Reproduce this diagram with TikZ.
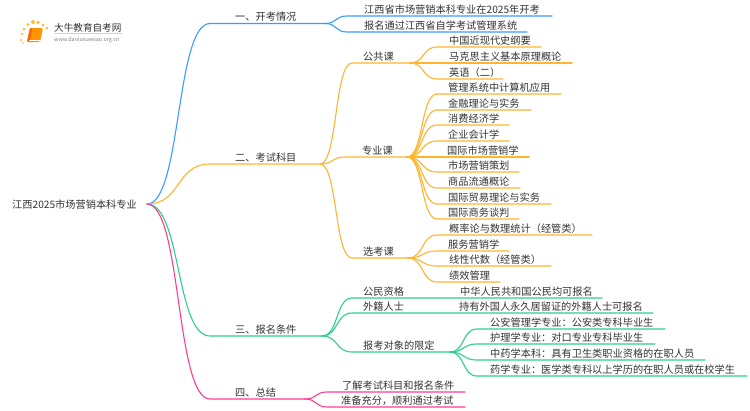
\documentclass[tikz,border=0pt]{standalone}
\usepackage{fontspec}
\usetikzlibrary{calc}
\setmainfont{Noto Sans CJK SC}
\definecolor{cblue}{HTML}{3D9BFF}
\definecolor{corange}{HTML}{FFB52E}
\definecolor{cgreen}{HTML}{2DCF8C}
\definecolor{cpink}{HTML}{FF3D8F}
\definecolor{ctext}{HTML}{333333}
\tikzset{
  label text/.style={anchor=base west,inner sep=0pt,text=ctext,font=\fontsize{10.2}{12}\selectfont},
  link/.style={line width=1.1pt,line cap=round},
}
% \mnode{name}{parent}{xstart}{xend}{y}{textx}{text}{colour}
\newcommand{\mnode}[8]{%
  \coordinate (#1s) at (#3,#5);
  \coordinate (#1) at (#4,#5);
  \node[label text] (#1t) at (#6,#5-2.6) {#7};
  \draw[link,#8] (#2) .. controls ($(#2)!0.55!(#1s|-#2)$) and ($(#1s)!0.55!(#2|-#1s)$) .. (#1s) -- (#1);
}
\begin{document}
\begin{tikzpicture}[x=1pt,y=-1pt]
\useasboundingbox (0,0) rectangle (750,410);
\fill[white] (0,0) rectangle (750,410);
% logo
\foreach \a/\b/\r in {21/40/1.1,22/34/1.3,24/29/1.5,28/24.5/1.7,33/22/2,38/22.5/1.9,43/25/1.7,47/28/1.5,23/43/.9}
  \fill[orange!70!yellow,opacity=.75] (\a,\b) circle (\r);
\fill[orange!85!yellow,rounded corners=1.5pt] (30,28) -- (43,28) -- (40,42) -- (27,42) -- cycle;
\fill[orange!75!red,rounded corners=1pt] (30,28) -- (32.5,28) -- (29.5,42) -- (27,42) -- cycle;
\draw[white,line width=.5pt] (29,40) -- (39.5,40);
\node[anchor=base west,inner sep=0pt,text=ctext,font=\fontsize{9.6}{11}\selectfont] (logot) at (54,31) {大牛教育自考网};
\draw[gray!35,line width=.5pt] (54,33.5) -- (122,33.5);
\node[anchor=base west,inner sep=0pt,text=gray,font=\fontsize{5.4}{6}\selectfont] (logou) at (54,41) {www.daniuxuexiao.org.cn};
% root
\node[label text] (roott) at (12,208.4) {江西2025市场营销本科专业};
\coordinate (root) at (147,204);
% branch 1
\mnode{a}{root}{210}{325}{23.5}{235}{一、开考情况}{cblue}
\mnode{aa}{a}{347}{552}{16}{364}{江西省市场营销本科专业在2025年开考}{cblue}
\mnode{ab}{a}{347}{527}{32}{364}{报名通过江西省自学考试管理系统}{cblue}
% branch 2
\mnode{b}{root}{210}{320}{164}{235}{二、考试科目}{corange}
\mnode{ba}{b}{352}{410}{63}{363}{公共课}{corange}
\mnode{baa}{ba}{437}{541}{47}{449}{中国近现代史纲要}{corange}
\mnode{bab}{ba}{437}{572}{63}{449}{马克思主义基本原理概论}{corange}
\mnode{bac}{ba}{437}{503}{79}{449}{英语（二）}{corange}
\mnode{bb}{b}{345}{407}{157}{362}{专业课}{corange}
\mnode{bba}{bb}{437}{561}{94}{448}{管理系统中计算机应用}{corange}
\mnode{bbb}{bb}{437}{531}{110}{448}{金融理论与实务}{corange}
\mnode{bbc}{bb}{437}{509}{125}{448}{消费经济学}{corange}
\mnode{bbd}{bb}{437}{509}{141}{448}{企业会计学}{corange}
\mnode{bbe}{bb}{437}{529}{157}{447}{国际市场营销学}{corange}
\mnode{bbf}{bb}{437}{519}{172}{448}{市场营销策划}{corange}
\mnode{bbg}{bb}{437}{520}{188}{448}{商品流通概论}{corange}
\mnode{bbh}{bb}{437}{551}{204}{448}{国际贸易理论与实务}{corange}
\mnode{bbi}{bb}{437}{519}{219}{448}{国际商务谈判}{corange}
\mnode{bc}{b}{352}{408}{258}{363}{选考课}{corange}
\mnode{bca}{bc}{437}{592}{235}{449}{概率论与数理统计（经管类）}{corange}
\mnode{bcb}{bc}{437}{509}{251}{448}{服务营销学}{corange}
\mnode{bcc}{bc}{437}{551}{266}{449}{线性代数（经管类）}{corange}
\mnode{bcd}{bc}{437}{500}{282}{449}{绩效管理}{corange}
% branch 3
\mnode{c}{root}{210}{322}{336}{235}{三、报名条件}{cgreen}
\mnode{ca}{c}{352}{602}{298}{363}{公民资格}{cgreen}
\node[label text] (cat) at (460,295.4) {中华人民共和国公民均可报名};
\mnode{cb}{c}{352}{653}{313}{363}{外籍人士}{cgreen}
\node[label text] (cbt) at (459,310.4) {持有外国人永久居留证的外籍人士可报名};
\mnode{cc}{c}{352}{450}{352}{363}{报考对象的限定}{cgreen}
\mnode{cca}{cc}{477}{665}{329}{490}{公安管理学专业：公安类专科毕业生}{cgreen}
\mnode{ccb}{cc}{477}{655}{344}{490}{护理学专业：对口专业专科毕业生}{cgreen}
\mnode{ccc}{cc}{477}{705}{360}{490}{中药学本科：具有卫生类职业资格的在职人员}{cgreen}
\mnode{ccd}{cc}{477}{747}{376}{490}{药学专业：医学类专科以上学历的在职人员或在校学生}{cgreen}
% branch 4
\mnode{d}{root}{210}{305}{399}{235}{四、总结}{cpink}
\mnode{da}{d}{327}{465}{392}{342}{了解考试科目和报名条件}{cpink}
\mnode{db}{d}{327}{465}{407}{341}{准备充分，顺利通过考试}{cpink}
\end{tikzpicture}
\end{document}
